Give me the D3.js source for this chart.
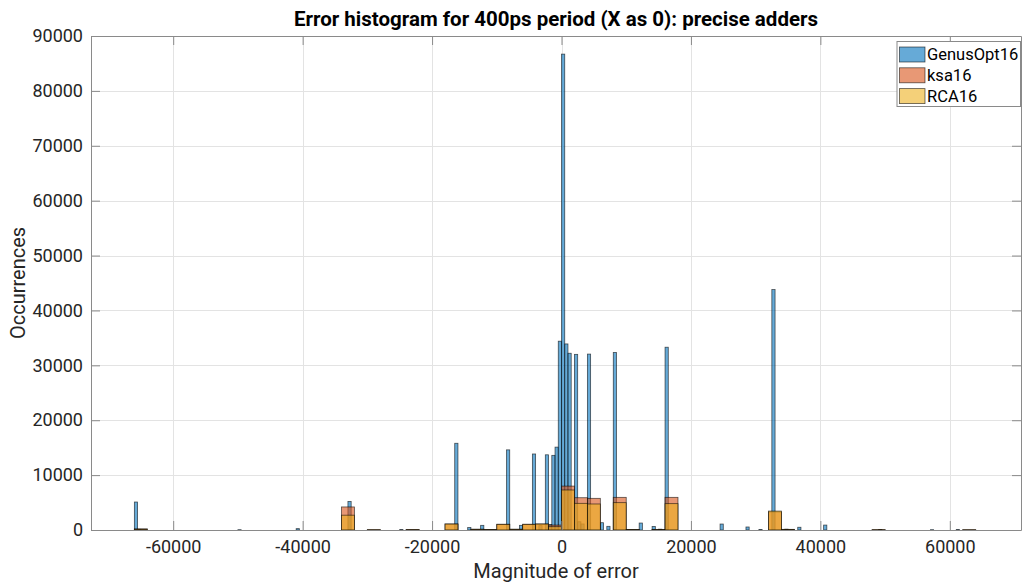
<!DOCTYPE html>
<html>
<head>
<meta charset="utf-8">
<script src="https://cdn.jsdelivr.net/npm/d3@7"></script>
<style>
  body { margin: 0; background: #fff; }
  svg { display: block; font-family: Roboto, "DejaVu Sans", sans-serif; }
</style>
</head>
<body>
<svg id="chart" width="1022" height="583"></svg>
<script>
// bin left edges and counts
const genusBinWidth = 500;
const genusStarts = [-66000, -65500, -50000, -41000, -33000, -25000, -16500, -14500, -12500,
  -8500, -6500, -4500, -3500, -2500, -2000, -1500, -1000, -500, 0, 500, 1000, 2000, 2500,
  3000, 4000, 6000, 7000, 8000, 12000, 14000, 15000, 16000, 24500, 28500, 30500, 32500,
  34500, 36500, 40500, 49000, 57000, 61000];
const genusCounts = [5100, 120, 60, 250, 5200, 80, 15800, 450, 850,
  14600, 850, 13850, 800, 13700, 1000, 13600, 15100, 34400, 86700, 33900, 32200, 32000, 1500,
  1100, 32050, 1330, 670, 32350, 1270, 650, 150, 33300, 1090, 550, 100, 43800,
  150, 500, 900, 80, 60, 80];

const wideBinWidth = 2000;
const ksaStarts = [-66000, -34000, -30000, -24000, -18000, -14000, -12000, -10000, -8000,
  -6000, -4000, -2000, 0, 2000, 4000, 8000, 10000, 14000, 16000, 32000, 34000, 48000, 62000];
const ksaCounts = [200, 4200, 60, 80, 1100, 150, 100, 1050, 150,
  1050, 1100, 900, 8000, 5880, 5770, 5950, 100, 100, 5950, 3300, 120, 60, 50];
const rcaStarts = ksaStarts;
const rcaCounts = [150, 2700, 50, 60, 1090, 120, 80, 1030, 120,
  1030, 1090, 600, 7290, 4860, 4740, 4980, 80, 80, 4800, 3450, 100, 50, 40];

const seriesNames = ["GenusOpt16", "ksa16", "RCA16"];
const seriesColors = ["#0072bd", "#d95319", "#edb120"];
const xTicks = [-60000, -40000, -20000, 0, 20000, 40000, 60000];
const yTicks = [0, 10000, 20000, 30000, 40000, 50000, 60000, 70000, 80000, 90000];

const mLeft = 91, mRight = 1021, mTop = 36, mBottom = 530;
const svg = d3.select("#chart");

const x = d3.scaleLinear([-72700, 71000], [mLeft, mRight]);
const y = d3.scaleLinear([0, 90000], [mBottom, mTop]);

// grid
const grid = svg.append("g").attr("stroke", "#e3e3e3").attr("stroke-width", 1);
grid.selectAll("line.v").data(xTicks).join("line")
  .attr("x1", d => Math.round(x(d)) + 0.5).attr("x2", d => Math.round(x(d)) + 0.5)
  .attr("y1", mTop).attr("y2", mBottom);
grid.selectAll("line.h").data(yTicks).join("line")
  .attr("y1", d => Math.round(y(d)) + 0.5).attr("y2", d => Math.round(y(d)) + 0.5)
  .attr("x1", mLeft).attr("x2", mRight);

// histograms
const series = [
  { starts: genusStarts, counts: genusCounts, w: genusBinWidth },
  { starts: ksaStarts, counts: ksaCounts, w: wideBinWidth },
  { starts: rcaStarts, counts: rcaCounts, w: wideBinWidth },
];
series.forEach((s, i) => {
  const bins = s.starts.map((st, j) => ({ x0: st, x1: st + s.w, n: s.counts[j] }));
  svg.append("g")
    .selectAll("rect").data(bins).join("rect")
    .attr("x", d => x(d.x0))
    .attr("width", d => x(d.x1) - x(d.x0))
    .attr("y", d => y(d.n))
    .attr("height", d => y(0) - y(d.n))
    .attr("fill", seriesColors[i])
    .attr("fill-opacity", 0.6)
    .attr("stroke", "#000")
    .attr("stroke-opacity", 0.65)
    .attr("stroke-width", 0.8);
});

// axes
const axisColor = "#8a8a8a";
const plain = d => String(d);
const xAxis = d3.axisBottom(x).tickValues(xTicks).tickSizeInner(-9).tickSizeOuter(0)
  .tickPadding(10).tickFormat(plain);
const yAxis = d3.axisLeft(y).tickValues(yTicks).tickSizeInner(-9).tickSizeOuter(0)
  .tickPadding(8).tickFormat(plain);

const gx = svg.append("g").attr("transform", `translate(0,${mBottom})`).call(xAxis);
const gy = svg.append("g").attr("transform", `translate(${mLeft},0)`).call(yAxis);
const gxTop = svg.append("g").attr("transform", `translate(0,${mTop})`)
  .call(d3.axisTop(x).tickValues(xTicks).tickSizeInner(-9).tickSizeOuter(0).tickFormat(""));
const gyRight = svg.append("g").attr("transform", `translate(${mRight},0)`)
  .call(d3.axisRight(y).tickValues(yTicks).tickSizeInner(-9).tickSizeOuter(0).tickFormat(""));

[gx, gy, gxTop, gyRight].forEach(g => {
  g.select(".domain").attr("stroke", axisColor);
  g.selectAll(".tick line").attr("stroke", axisColor);
  g.selectAll("text")
    .attr("font-family", "Roboto, sans-serif")
    .attr("font-size", 18)
    .attr("fill", "#262626");
});

// title and labels
svg.append("text")
  .attr("x", (mLeft + mRight) / 2).attr("y", 25.5)
  .attr("text-anchor", "middle")
  .attr("font-size", 20.5).attr("font-weight", "bold").attr("fill", "#000")
  .text("Error histogram for 400ps period (X as 0): precise adders");

svg.append("text")
  .attr("x", (mLeft + mRight) / 2).attr("y", 577.5)
  .attr("text-anchor", "middle")
  .attr("font-size", 20).attr("fill", "#262626")
  .text("Magnitude of error");

svg.append("text")
  .attr("transform", `translate(25,283) rotate(-90)`)
  .attr("text-anchor", "middle")
  .attr("font-size", 20).attr("fill", "#262626")
  .text("Occurrences");

// legend
const legend = svg.append("g");
legend.append("rect")
  .attr("x", 897).attr("y", 41.5).attr("width", 123.5).attr("height", 65)
  .attr("fill", "#fff").attr("stroke", "#8a8a8a");
seriesNames.forEach((name, i) => {
  const yy = 47 + i * 20.8;
  legend.append("rect")
    .attr("x", 899.5).attr("y", yy).attr("width", 25.5).attr("height", 15)
    .attr("fill", seriesColors[i]).attr("fill-opacity", 0.6)
    .attr("stroke", "#000").attr("stroke-opacity", 0.65).attr("stroke-width", 0.8);
  legend.append("text")
    .attr("x", 927).attr("y", yy + 13)
    .attr("font-size", 16.5).attr("fill", "#000")
    .text(name);
});
</script>
</body>
</html>
